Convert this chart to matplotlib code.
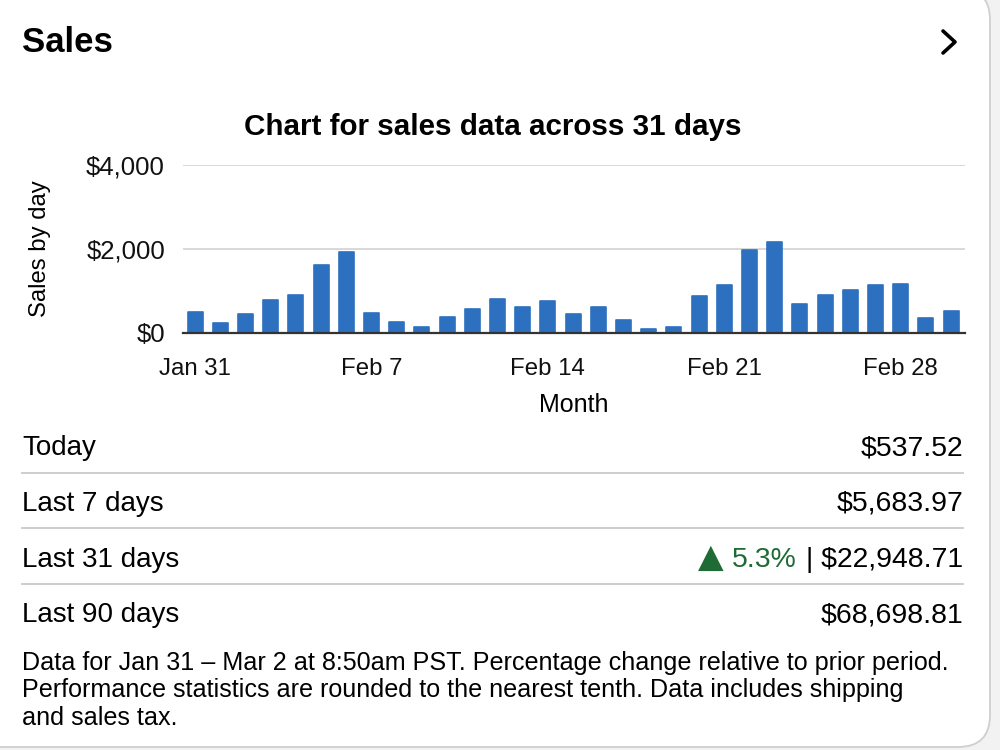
import matplotlib
matplotlib.use("Agg")
import matplotlib.pyplot as plt
from matplotlib.patches import FancyBboxPatch

# ---- data ----
sales = [504, 232, 448, 784, 896, 1616, 1920, 480, 256, 136, 384, 560, 808, 624, 768,
         464, 616, 304, 104, 136, 880, 1144, 1976, 2176, 688, 896, 1016, 1136, 1176, 352, 528]
tick_days = [0, 7, 14, 21, 28]
tick_labels = ["Jan 31", "Feb 7", "Feb 14", "Feb 21", "Feb 28"]
y_ticks = [0, 2000, 4000]
y_tick_labels = ["$0", "$2,000", "$4,000"]
row_labels = ["Today", "Last 7 days", "Last 31 days", "Last 90 days"]
row_values = ["$537.52", "$5,683.97", "| $22,948.71", "$68,698.81"]
change_arrow = "▲"
change_text = "5.3%"
footnote = ["Data for Jan 31 – Mar 2 at 8:50am PST. Percentage change relative to prior period.",
            "Performance statistics are rounded to the nearest tenth. Data includes shipping",
            "and sales tax."]

FONT = ["Liberation Sans", "DejaVu Sans"]
plt.rcParams['font.family'] = FONT
BAR = "#2d70bf"
GREEN = "#1f6b36"

fig = plt.figure(figsize=(10, 7.5), dpi=100, facecolor="#f2f2f2")

# background / card axes in pixel coordinates
bg = fig.add_axes([0, 0, 1, 1])
bg.set_xlim(0, 1000)
bg.set_ylim(750, 0)
bg.axis("off")
card = FancyBboxPatch((-40, -12), 1030, 759, boxstyle="round,pad=0,rounding_size=32",
                      facecolor="white", edgecolor="#cfcfcf", linewidth=1.3)
bg.add_patch(card)

bg.text(22, 43, "Sales", fontsize=25, fontweight="bold", ha="left", va="center")
bg.plot([943, 955, 943], [31, 42, 53], color="black", lw=2.6, solid_capstyle="round",
        solid_joinstyle="round")
bg.text(493, 135, "Chart for sales data across 31 days", fontsize=21.3, fontweight="bold",
        ha="center", va="baseline")

# rows
baselines = [455, 511, 567, 622]
renderer = fig.canvas.get_renderer()
for i, (lab, val) in enumerate(zip(row_labels, row_values)):
    bg.text(22, baselines[i], lab, fontsize=20, ha="left", va="baseline")
    t = bg.text(963, baselines[i], val, fontsize=20.4, ha="right", va="baseline")
    if i == 2:
        w = t.get_window_extent(renderer).width
        g = bg.text(963 - w - 9, baselines[i], change_text, fontsize=20.4, ha="right",
                    va="baseline", color=GREEN)
        wg = g.get_window_extent(renderer).width
        bg.text(963 - w - 9 - wg - 9, baselines[i], change_arrow, fontsize=24, ha="right",
                va="baseline", color=GREEN, family=["DejaVu Sans"])
for y in [473, 528, 584]:
    bg.plot([22, 963], [y, y], color="#c9c9c9", lw=1.3)

for i, line in enumerate(footnote):
    bg.text(22, 670 + i * 27.5, line, fontsize=18.1, ha="left", va="baseline")

# chart axes
ax = fig.add_axes([183 / 1000, 1 - 333 / 750, 782 / 1000, 168 / 750])
ax.set_facecolor("none")
x = list(range(len(sales)))
ax.bar(x, sales, width=0.6, color=BAR, edgecolor=BAR, linewidth=1.2, joinstyle="round",
       zorder=3)
ax.set_xlim(-0.48, 30.55)
ax.set_ylim(0, 4000)
ax.set_yticks(y_ticks)
ax.set_yticklabels(y_tick_labels)
ax.set_xticks(tick_days)
ax.set_xticklabels(tick_labels)
ax.tick_params(axis="both", length=0, colors="#111111")
ax.tick_params(axis="y", pad=13, labelsize=18.5)
ax.tick_params(axis="x", pad=18, labelsize=17.3)
ax.grid(axis="y", color="#d2d2d2", lw=1.2, zorder=0)
for s in ["top", "right", "left"]:
    ax.spines[s].set_visible(False)
ax.spines["bottom"].set_color("#333333")
ax.spines["bottom"].set_linewidth(1.6)
ax.spines["bottom"].set_zorder(4)
ax.set_xlabel("Month", fontsize=18, va="center", ha="center")
ax.xaxis.set_label_coords(0.5, (333 - 405) / 168)
ax.set_ylabel("Sales by day", fontsize=17.2, va="center", ha="center")
ax.yaxis.set_label_coords((40 - 183) / 782, 0.5)

fig.savefig("out.png", dpi=100, facecolor=fig.get_facecolor())
